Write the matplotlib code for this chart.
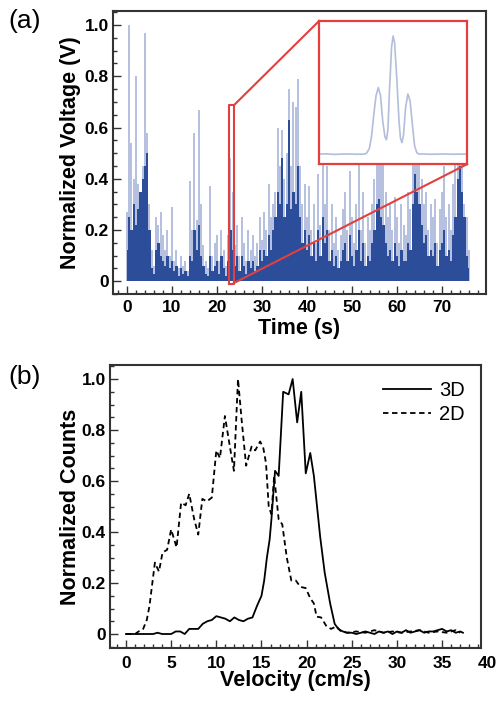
import numpy as np
import matplotlib
matplotlib.use("Agg")
import matplotlib.pyplot as plt
from matplotlib.ticker import MultipleLocator, FuncFormatter
import matplotlib.transforms as mtransforms

plt.rcParams['font.family'] = ['Liberation Sans', 'DejaVu Sans']

# panel (a): voltage trace, sampled every 0.5 s
time_step = 0.5
peak_v = [
    0.27, 1.00, 0.54, 0.40, 0.80, 0.38, 0.30, 0.45, 0.97, 0.58,
    0.30, 0.12, 0.06, 0.25, 0.22, 0.27, 0.18, 0.12, 0.20, 0.10,
    0.29, 0.08, 0.12, 0.05, 0.10, 0.06, 0.08, 0.04, 0.39, 0.20,
    0.58, 0.24, 0.67, 0.30, 0.14, 0.08, 0.05, 0.37, 0.10, 0.15,
    0.18, 0.08, 0.20, 0.12, 0.06, 0.18, 0.48, 0.35, 0.14, 0.22,
    0.10, 0.25, 0.15, 0.08, 0.20, 0.12, 0.18, 0.10, 0.15, 0.25,
    0.16, 0.27, 0.20, 0.38, 0.25, 0.30, 0.35, 0.60, 0.45, 0.59,
    0.40, 0.50, 0.75, 0.45, 0.70, 0.68, 0.79, 0.45, 0.30, 0.38,
    0.25, 0.37, 0.20, 0.30, 0.15, 0.42, 0.22, 0.50, 0.30, 0.45,
    0.20, 0.30, 0.15, 0.25, 0.12, 0.18, 0.28, 0.35, 0.20, 0.43,
    0.25, 0.15, 0.30, 0.55, 0.20, 0.35, 0.15, 0.25, 0.20, 0.30,
    0.40, 0.60, 0.70, 0.50, 0.55, 0.35, 0.25, 0.30, 0.20, 0.33,
    0.25, 0.15, 0.30, 0.22, 0.18, 0.35, 0.28, 0.55, 0.70, 0.60,
    0.50, 0.40, 0.30, 0.35, 0.20, 0.30, 0.25, 0.32, 0.15, 0.28,
    0.35, 0.45, 0.25, 0.30, 0.20, 0.38, 0.50, 0.75, 0.60, 0.55,
    0.30, 0.25, 0.12,
]
base_v = [
    0.12, 0.25, 0.20, 0.30, 0.22, 0.28, 0.35, 0.40, 0.45, 0.50,
    0.20, 0.05, 0.03, 0.12, 0.15, 0.10, 0.08, 0.06, 0.10, 0.05,
    0.08, 0.04, 0.06, 0.02, 0.05, 0.03, 0.04, 0.02, 0.10, 0.08,
    0.20, 0.12, 0.22, 0.10, 0.06, 0.03, 0.02, 0.10, 0.04, 0.06,
    0.08, 0.03, 0.10, 0.05, 0.02, 0.08, 0.20, 0.12, 0.06, 0.10,
    0.04, 0.10, 0.06, 0.03, 0.08, 0.05, 0.08, 0.04, 0.06, 0.12,
    0.08, 0.12, 0.10, 0.18, 0.12, 0.20, 0.25, 0.35, 0.30, 0.48,
    0.25, 0.30, 0.63, 0.28, 0.35, 0.30, 0.45, 0.25, 0.15, 0.20,
    0.12, 0.18, 0.10, 0.15, 0.08, 0.20, 0.10, 0.25, 0.15, 0.20,
    0.08, 0.12, 0.06, 0.10, 0.05, 0.08, 0.12, 0.15, 0.08, 0.18,
    0.10, 0.06, 0.12, 0.20, 0.08, 0.15, 0.06, 0.10, 0.08, 0.15,
    0.20, 0.30, 0.32, 0.25, 0.22, 0.15, 0.10, 0.12, 0.08, 0.15,
    0.10, 0.06, 0.12, 0.08, 0.08, 0.15, 0.12, 0.30, 0.42, 0.35,
    0.30, 0.22, 0.15, 0.18, 0.10, 0.12, 0.10, 0.15, 0.06, 0.12,
    0.15, 0.20, 0.10, 0.12, 0.08, 0.18, 0.25, 0.40, 0.45, 0.35,
    0.25, 0.10, 0.05,
]
t = np.arange(len(peak_v)) * time_step

# inset: single event, fractions of the inset box
pulse_x = [0.0, 0.05, 0.1, 0.15, 0.2, 0.25, 0.3, 0.32, 0.34, 0.355, 0.37, 0.385,
           0.40, 0.415, 0.43, 0.445, 0.455, 0.465, 0.475, 0.49, 0.50, 0.51, 0.525,
           0.54, 0.55, 0.56, 0.57, 0.585, 0.60, 0.615, 0.63, 0.645, 0.66, 0.675,
           0.7, 0.75, 0.8, 0.85, 0.9, 0.95, 1.0]
pulse_y = [0.070, 0.072, 0.068, 0.070, 0.071, 0.069, 0.070, 0.075, 0.11, 0.20, 0.35, 0.48,
           0.535, 0.48, 0.30, 0.19, 0.17, 0.24, 0.50, 0.82, 0.895, 0.85, 0.60,
           0.30, 0.18, 0.15, 0.20, 0.40, 0.49, 0.44, 0.28, 0.13, 0.08, 0.07,
           0.071, 0.069, 0.070, 0.071, 0.069, 0.070, 0.070]

# panel (b): velocity histograms
vel_3d = [0, 1, 2, 3, 3.5, 4, 5, 5.5, 6, 6.5, 7, 7.5, 8, 8.5, 9, 9.5, 10, 10.5, 11,
          11.5, 12, 12.5, 13, 13.5, 14, 14.5, 15, 15.3, 15.6, 15.9, 16.1, 16.5,
          16.9, 17.4, 18.0, 18.45, 18.95, 19.4, 19.9, 20.4, 20.8, 21.5, 22.0,
          22.6, 23.1, 23.5, 24.0, 24.5, 25, 25.5, 26, 26.5, 27, 27.5, 28, 28.5,
          29, 29.5, 30, 30.5, 31, 31.5, 32, 32.5, 33, 33.5, 34, 34.5, 35, 35.5,
          36, 36.5, 37, 37.3]
cnt_3d = [0, 0, 0, 0, 0.005, 0, 0, 0.01, 0.01, 0.0, 0.02, 0.02, 0.02, 0.04, 0.05,
          0.055, 0.07, 0.065, 0.06, 0.05, 0.065, 0.055, 0.05, 0.06, 0.065, 0.11,
          0.15, 0.21, 0.30, 0.37, 0.45, 0.64, 0.62, 0.95, 0.94, 1.0, 0.83, 0.95,
          0.63, 0.71, 0.62, 0.38, 0.24, 0.12, 0.04, 0.02, 0.01, 0.005, 0.005, 0.0,
          0.005, 0.01, 0.005, 0.0, 0.01, 0.005, 0.01, 0.0, 0.01, 0.005, 0.015,
          0.005, 0.01, 0.015, 0.005, 0.01, 0.01, 0.015, 0.02, 0.01, 0.015, 0.005,
          0.01, 0.005]
vel_2d = [0, 1, 1.4, 1.9, 2.3, 2.6, 3.2, 3.65, 4.05, 4.55, 5.0, 5.6, 6.1, 6.6, 7.0,
          7.55, 8.0, 8.45, 8.95, 9.5, 10.0, 10.4, 10.95, 11.5, 11.95, 12.4, 12.8,
          13.3, 13.9, 14.3, 14.85, 15.2, 15.5, 15.8, 16.1, 16.4, 16.9, 17.3, 17.8,
          18.3, 18.8, 19.3, 19.9, 20.4, 20.8, 21.1, 21.6, 22.2, 22.7, 23.3, 23.8,
          24.5, 25.5, 26.5, 27.5, 28.5, 29.5, 30.5, 31.5, 32.5, 33.5, 34.5, 35.5,
          36.5, 37.0]
cnt_2d = [0, 0, 0.01, 0.02, 0.055, 0.11, 0.28, 0.245, 0.32, 0.33, 0.41, 0.34,
          0.515, 0.505, 0.55, 0.45, 0.39, 0.53, 0.52, 0.535, 0.72, 0.69, 0.855,
          0.735, 0.64, 1.0, 0.84, 0.66, 0.735, 0.72, 0.755, 0.73, 0.67, 0.50,
          0.47, 0.62, 0.45, 0.43, 0.30, 0.21, 0.21, 0.185, 0.18, 0.14, 0.12,
          0.068, 0.065, 0.03, 0.02, 0.03, 0.01, 0.005, 0.01, 0.005, 0.015, 0.005,
          0.01, 0.005, 0.01, 0.015, 0.005, 0.01, 0.005, 0.015, 0.005]

dark_blue = '#2c4d99'
light_blue = '#a0afd6'
red = '#e2403f'
spine_c = '#333333'

fig = plt.figure(figsize=(5.0, 7.04), dpi=100)
ax1 = fig.add_axes([0.226, 0.5824, 0.746, 0.402])
ax2 = fig.add_axes([0.220, 0.0795, 0.742, 0.402])


def style_axes(ax, xmaj, xmin):
    for s in ax.spines.values():
        s.set_linewidth(1.5)
        s.set_color(spine_c)
    ax.xaxis.set_major_locator(MultipleLocator(xmaj))
    ax.xaxis.set_minor_locator(MultipleLocator(xmin))
    ax.yaxis.set_major_locator(MultipleLocator(0.2))
    ax.yaxis.set_minor_locator(MultipleLocator(0.05))
    ax.yaxis.set_major_formatter(FuncFormatter(lambda v, p: '0' if abs(v) < 1e-9 else '%.1f' % v))
    ax.tick_params(which='both', direction='in', top=False, right=False, color=spine_c, width=1.0)
    ax.tick_params(which='major', length=6)
    ax.tick_params(which='minor', length=3)
    ax.tick_params(axis='x', pad=4)
    ax.tick_params(axis='y', pad=3)
    for lab in ax.get_xticklabels() + ax.get_yticklabels():
        lab.set_fontsize(12.5)
        lab.set_fontweight('bold')


# ---- (a)
ax1.vlines(t, 0, peak_v, color=light_blue, lw=1.1, zorder=2)
ax1.fill_between(t, 0, base_v, step='mid', color=dark_blue, lw=0, zorder=3)
ax1.set_xlim(-3.1, 79.8)
ax1.set_ylim(-0.05, 1.055)
style_axes(ax1, 10, 2)
ax1.set_xlabel('Time (s)', fontsize=15.5, fontweight='bold')
ax1.set_ylabel('Normalized Voltage (V)', fontsize=15.5, fontweight='bold')
ax1.xaxis.set_label_coords(0.5, -0.085)
ax1.yaxis.set_label_coords(-0.085, 0.5)

# zoom box + inset
box_x0, box_x1, box_y0, box_y1 = 22.7, 23.8, -0.012, 0.6875
ins_x0, ins_x1, ins_y0, ins_y1 = 42.7, 75.6, 0.457, 1.016
ax1.plot([box_x0, box_x1, box_x1, box_x0, box_x0], [box_y0, box_y0, box_y1, box_y1, box_y0],
         color=red, lw=1.5, clip_on=False, zorder=5)
ax1.plot([box_x1, ins_x0], [box_y1, ins_y1], color=red, lw=1.5, zorder=5)
ax1.plot([box_x1, ins_x1], [box_y0 + 0.005, ins_y0], color=red, lw=1.5, zorder=5)
axin = ax1.inset_axes([ins_x0, ins_y0, ins_x1 - ins_x0, ins_y1 - ins_y0], transform=ax1.transData)
axin.plot(pulse_x, pulse_y, color='#b3bedb', lw=1.2)
axin.set_xlim(0, 1)
axin.set_ylim(0, 1)
axin.set_xticks([])
axin.set_yticks([])
for s in axin.spines.values():
    s.set_color(red)
    s.set_linewidth(1.6)
axin.set_zorder(6)

# ---- (b)
ax2.plot(vel_3d, cnt_3d, color='black', lw=1.3, label='3D')
ax2.plot(vel_2d, cnt_2d, color='black', lw=1.3, ls=(0, (3, 2)), label='2D')
ax2.set_xlim(-1.77, 39.3)
ax2.set_ylim(-0.055, 1.055)
style_axes(ax2, 5, 1)
ax2.tick_params(axis='x', pad=6)
trans = mtransforms.blended_transform_factory(ax2.transData, ax2.transAxes)
ax2.text(40, -0.028, '40', transform=trans, ha='center', va='top', fontsize=12.5,
         fontweight='bold', clip_on=False)
ax2.set_xlabel('Velocity (cm/s)', fontsize=15.5, fontweight='bold')
ax2.set_ylabel('Normalized Counts', fontsize=15.5, fontweight='bold')
ax2.xaxis.set_label_coords(0.5, -0.078)
ax2.yaxis.set_label_coords(-0.078, 0.5)
ax2.legend(loc='upper right', frameon=False, fontsize=14.5, handlelength=2.4,
           handletextpad=0.4, borderaxespad=0.4, labelspacing=0.25)

fig.text(0.016, 0.970, '(a)', fontsize=19, ha='left', va='center')
fig.text(0.016, 0.464, '(b)', fontsize=19, ha='left', va='center')

fig.savefig('out.png', dpi=100)
